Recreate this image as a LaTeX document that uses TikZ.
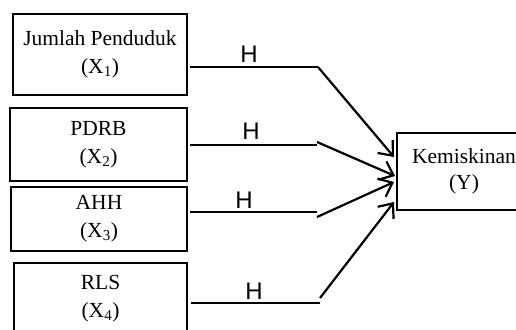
\documentclass[tikz,border=0pt]{standalone}
\usepackage{fontspec}
\setmainfont{Liberation Serif}
\newfontfamily\labelfont{Liberation Sans}
\usetikzlibrary{arrows.meta}
\tikzset{
  varbox/.style={draw, line width=2pt, align=center, inner sep=0pt,
    font=\fontsize{21.5}{28}\selectfont},
  link/.style={line width=2.2pt},
  arrowlink/.style={line width=2.2pt, -{Straight Barb[length=12pt,width=20pt,line width=2.2pt]}},
  hlabel/.style={font=\labelfont\fontsize{24}{24}\selectfont, inner sep=0pt}
}
\begin{document}
\begin{tikzpicture}[x=1pt,y=-1pt]
\useasboundingbox (0,0) rectangle (516,329);
\clip (0,0) rectangle (516,329);

% independent variables
\node[varbox, minimum width=174pt, minimum height=81pt] (x1) at (100,54.5)
  {Jumlah Penduduk\\(X\textsubscript{1})};
\node[varbox, minimum width=177pt, minimum height=73pt] (x2) at (98.5,144.5)
  {PDRB\\(X\textsubscript{2})};
\node[varbox, minimum width=176pt, minimum height=64pt] (x3) at (99,219)
  {AHH\\(X\textsubscript{3})};
\node[varbox, minimum width=173pt, minimum height=71pt] (x4) at (100.5,298.5)
  {RLS\\(X\textsubscript{4})};

% dependent variable
\node[varbox, minimum width=134pt, minimum height=77pt,
      font=\fontsize{21.5}{26}\selectfont] (y) at (464,171.5)
  {Kemiskinan\\(Y)};

% bend points and arrow targets
\coordinate (k1) at (318,67);
\coordinate (h2) at (317,145);
\coordinate (k2) at (317,142);
\coordinate (h3) at (317,212);
\coordinate (k3) at (317,217);
\coordinate (h4) at (320,303);
\coordinate (k4) at (320,298);
\coordinate (t1) at (394,157);
\coordinate (t2) at (395,176);
\coordinate (t3) at (394,182);
\coordinate (t4) at (394,202);

% connectors
\draw[link] ([xshift=2pt]x1.east |- k1) -- (k1);
\draw[arrowlink] (k1) -- (t1);
\draw[link] ([xshift=2pt]x2.east |- h2) -- (h2);
\draw[arrowlink] (k2) -- (t2);
\draw[link] ([xshift=2pt]x3.east |- h3) -- (h3);
\draw[arrowlink] (k3) -- (t3);
\draw[link] ([xshift=3pt]x4.east |- h4) -- (h4);
\draw[arrowlink] (k4) -- (t4);

% path labels
\node[hlabel] (l1) at (249,54) {H};
\node[hlabel] (l2) at (251,131) {H};
\node[hlabel] (l3) at (244,200) {H};
\node[hlabel] (l4) at (254,291) {H};
\end{tikzpicture}
\end{document}
